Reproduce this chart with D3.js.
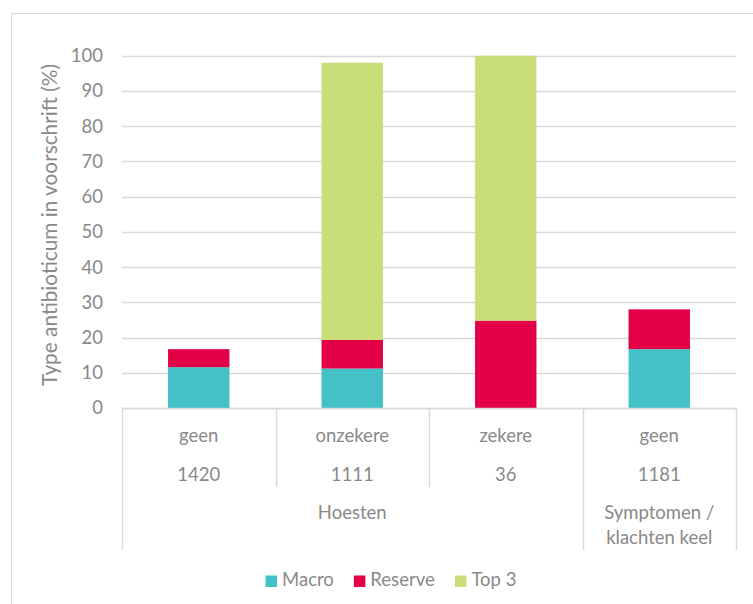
<!DOCTYPE html>
<html>
<head>
<meta charset="utf-8">
<script src="https://cdn.jsdelivr.net/npm/d3@7"></script>
<style>
  html, body { margin: 0; padding: 0; background: #fff; }
  svg text { font-family: Lato, "Open Sans", sans-serif; fill: #898989; }
</style>
</head>
<body>
<svg id="chart" width="753" height="604"></svg>
<script>
// Subcategories, respondent counts and the top-level groups of the category axis
const categories = ["geen", "onzekere", "zekere", "geen"];
const counts = ["1420", "1111", "36", "1181"];
const groupLabels = [["Hoesten"], ["Symptomen /", "klachten keel"]];
const groupSpans = [3, 1];

// Share of each antibiotic type in the prescriptions (%)
const seriesNames = ["Macro", "Reserve", "Top 3"];
const macro = [11.6, 11.2, 0, 16.7];
const reserve = [5.1, 8.1, 24.8, 11.3];
const top3 = [0, 78.7, 75.2, 0];

const yTicks = [0, 10, 20, 30, 40, 50, 60, 70, 80, 90, 100];
const yTitle = "Type antibioticum in voorschrift (%)";

const colors = { "Macro": "#43C1C6", "Reserve": "#E40046", "Top 3": "#C9DE78" };
const gridColor = "#d9d9d9";
const textColor = "#898989";

const rows = categories.map((c, i) => ({
  idx: i, "Macro": macro[i], "Reserve": reserve[i], "Top 3": top3[i]
}));

const svg = d3.select("#chart");

// outer chart frame
svg.append("rect")
  .attr("x", 11.5).attr("y", 13.5)
  .attr("width", 780).attr("height", 640)
  .attr("fill", "none").attr("stroke", gridColor).attr("stroke-width", 1);

const plot = { left: 122, right: 736, top: 55.7, bottom: 408 };

const x = d3.scaleBand()
  .domain(d3.range(categories.length))
  .range([plot.left, plot.right])
  .paddingInner(0.6).paddingOuter(0.3);

const y = d3.scaleLinear().domain([0, 100]).range([plot.bottom, plot.top]);

// horizontal gridlines
svg.append("g").selectAll("line")
  .data(yTicks)
  .join("line")
  .attr("x1", plot.left).attr("x2", plot.right)
  .attr("y1", d => Math.round(y(d)) + 0.5).attr("y2", d => Math.round(y(d)) + 0.5)
  .attr("stroke", gridColor).attr("stroke-width", 1.4);

// y axis labels
const yAxis = d3.axisLeft(y).tickValues(yTicks).tickSize(0).tickPadding(0);
const yg = svg.append("g")
  .attr("transform", `translate(${plot.left - 19},0)`)
  .call(yAxis);
yg.select(".domain").remove();
yg.selectAll("text")
  .attr("font-size", 18.5)
  .attr("font-family", "Lato, sans-serif")
  .attr("fill", textColor);

// y axis title
svg.append("text")
  .attr("transform", `translate(57,225) rotate(-90)`)
  .attr("text-anchor", "middle")
  .attr("font-size", 20.8)
  .text(yTitle);

// stacked bars
const stack = d3.stack().keys(seriesNames);
const layers = stack(rows);
svg.append("g").selectAll("g")
  .data(layers)
  .join("g")
  .attr("fill", d => colors[d.key])
  .selectAll("rect")
  .data(d => d.filter(p => p[1] - p[0] > 0))
  .join("rect")
  .attr("x", d => x(d.data.idx))
  .attr("width", x.bandwidth())
  .attr("y", d => y(d[1]))
  .attr("height", d => y(d[0]) - y(d[1]));

// multi-level category axis
const step = x.step();
const edge = i => plot.left + i * step;
const axisG = svg.append("g");
axisG.append("line")
  .attr("x1", plot.left).attr("x2", plot.right)
  .attr("y1", plot.bottom + 0.5).attr("y2", plot.bottom + 0.5)
  .attr("stroke", gridColor).attr("stroke-width", 1.4);

// group boundaries reach the bottom, inner boundaries stop above the group labels
const groupEdges = [0];
groupSpans.forEach(s => groupEdges.push(groupEdges[groupEdges.length - 1] + s));
d3.range(categories.length + 1).forEach(i => {
  const isGroupEdge = groupEdges.includes(i);
  axisG.append("line")
    .attr("x1", Math.round(edge(i)) + 0.5).attr("x2", Math.round(edge(i)) + 0.5)
    .attr("y1", plot.bottom).attr("y2", isGroupEdge ? 550 : 487)
    .attr("stroke", gridColor).attr("stroke-width", 1.4);
});

axisG.selectAll("text.cat")
  .data(categories)
  .join("text")
  .attr("class", "cat")
  .attr("x", (d, i) => x(i) + x.bandwidth() / 2)
  .attr("y", 442)
  .attr("text-anchor", "middle")
  .attr("font-size", 18.5)
  .text(d => d);

axisG.selectAll("text.cnt")
  .data(counts)
  .join("text")
  .attr("class", "cnt")
  .attr("x", (d, i) => x(i) + x.bandwidth() / 2)
  .attr("y", 481)
  .attr("text-anchor", "middle")
  .attr("font-size", 18.5)
  .text(d => d);

groupLabels.forEach((lines, g) => {
  const cx = (edge(groupEdges[g]) + edge(groupEdges[g + 1])) / 2;
  const t = axisG.append("text")
    .attr("text-anchor", "middle")
    .attr("font-size", 18.5);
  lines.forEach((ln, k) => {
    t.append("tspan").attr("x", cx).attr("y", 519 + k * 25).text(ln);
  });
});

// legend
const legend = svg.append("g");
const items = legend.selectAll("g")
  .data(seriesNames)
  .join("g");
items.append("rect")
  .attr("width", 11.5).attr("height", 11.5)
  .attr("y", 575.5)
  .attr("fill", d => colors[d]);
items.append("text")
  .attr("x", 16.5).attr("y", 586)
  .attr("font-size", 18.5)
  .text(d => d);
const gap = 20;
const widths = items.nodes().map(n => n.getBBox().width);
const total = d3.sum(widths) + gap * (widths.length - 1);
let cursor = 391 - total / 2;
items.each(function (d, i) {
  d3.select(this).attr("transform", `translate(${cursor},0)`);
  cursor += widths[i] + gap;
});
</script>
</body>
</html>
